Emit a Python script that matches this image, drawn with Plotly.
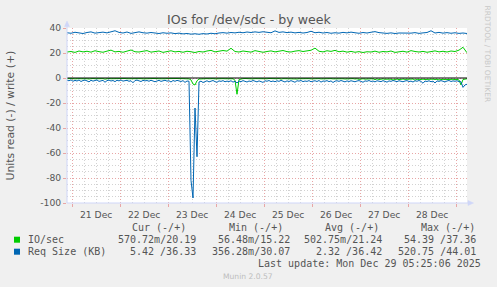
import plotly.graph_objects as go
import pandas as pd

# ---------------- data ----------------
start = "2025-12-20 21:25:06"
end = "2025-12-29 05:25:06"

# write (+) values, one every 2 hours
io_write = [20.8, 21.2, 20.5, 21.6, 20.9, 21.4, 20.7, 21.8, 21.1, 20.6,
            21.5, 22.3, 20.9, 21.3, 20.6, 21.7, 22.4, 21.0, 20.8, 21.4,
            21.9, 20.7, 21.2, 21.6, 20.5, 21.1, 21.8, 20.9, 21.3, 20.6,
            21.4, 21.0, 20.4, 21.2, 20.8, 21.6, 22.1, 20.9, 21.3, 22.0,
            21.5, 23.8, 21.2, 20.8, 21.6, 21.1, 20.7, 21.9, 21.3, 20.6,
            21.2, 21.7, 20.9, 21.4, 22.0, 21.1, 20.8, 21.5, 21.9, 21.2,
            21.6, 22.2, 23.9, 21.4, 20.9, 21.8, 21.3, 22.1, 21.0, 21.5,
            20.7, 21.3, 20.6, 21.1, 20.4, 21.0, 20.8, 21.5, 20.6, 21.2,
            20.9, 21.6, 20.5, 21.0, 21.4, 20.7, 21.9, 21.2, 20.8, 21.3,
            20.6, 21.1, 21.7, 20.9, 21.4, 20.8, 21.6, 21.2, 22.3, 24.6,
            20.2]
req_write = [36.2, 35.8, 36.6, 36.0, 35.6, 36.4, 36.9, 35.9, 36.3, 36.7,
             36.1, 37.2, 37.8, 36.5, 36.0, 36.8, 35.7, 36.3, 36.9, 36.2,
             35.9, 36.4, 36.0, 35.6, 36.2, 35.8, 36.1, 35.5, 35.9, 35.3,
             35.6, 35.1, 35.4, 35.0, 35.5, 35.2, 35.8, 35.4, 36.0, 36.3,
             35.9, 36.4, 36.1, 36.6, 36.2, 36.8, 36.4, 36.9, 36.5, 37.0,
             36.6, 36.2, 37.7, 36.5, 36.9, 36.3, 36.7, 36.1, 36.5, 36.0,
             36.4, 37.4, 36.2, 36.6, 36.0, 36.4, 35.8, 36.2, 35.9, 36.5,
             36.1, 36.7, 36.2, 35.8, 36.4, 36.0, 36.6, 37.1, 36.3, 36.0,
             35.7, 36.1, 35.6, 36.0, 35.8, 36.2, 35.9, 36.3, 35.7, 36.1,
             36.4, 37.8, 36.0, 36.5, 35.9, 36.3, 35.8, 36.2, 35.7, 36.0,
             35.6]

# read (-) values, one every hour
io_read = [0.5, 0.4, 0.6, 0.5, 0.7, 0.4, 0.5, 0.6, 0.4, 0.5,
           0.6, 0.8, 0.5, 0.4, 0.6, 0.5, 0.7, 0.4, 0.5, 0.9,
           0.5, 0.4, 0.6, 0.5, 0.7, 0.5, 0.4, 0.6, 0.5, 0.4,
           0.6, 0.5, 0.4, 0.8, 0.5, 0.6, 0.4, 0.5, 0.7, 0.5,
           0.4, 0.6, 0.5, 0.4, 0.7, 0.5, 0.6, 0.4, 0.5, 0.6,
           0.5, 0.4, 0.7, 0.5, 0.6, 0.4, 0.5, 0.8, 0.5, 0.6,
           0.5, 0.7, 1.5, 4.8, 5.6, 2.2, 0.8, 0.6, 0.5, 0.7,
           0.5, 0.6, 0.4, 0.5, 0.7, 0.5, 0.6, 0.4, 0.5, 0.6,
           0.5, 0.4, 0.7, 0.6, 1.8, 13.0, 1.2, 0.6, 0.5, 0.4,
           0.6, 0.5, 0.4, 0.7, 0.5, 0.6, 0.4, 0.5, 0.8, 0.5,
           0.6, 0.4, 0.5, 0.7, 0.5, 0.6, 0.4, 0.9, 0.5, 0.6,
           0.5, 0.7, 0.4, 0.6, 0.5, 0.8, 0.6, 0.5, 0.7, 0.4,
           0.6, 0.5, 0.7, 0.5, 0.9, 0.6, 0.5, 0.7, 0.6, 0.5,
           0.8, 0.6, 0.5, 0.7, 0.6, 1.0, 0.5, 0.7, 0.6, 0.8,
           0.6, 0.9, 0.7, 0.5, 0.8, 0.6, 1.1, 0.7, 0.6, 0.9,
           0.7, 1.0, 0.8, 0.6, 1.3, 0.7, 1.2, 0.8, 0.7, 1.0,
           0.8, 1.1, 0.9, 1.6, 1.0, 0.8, 1.3, 0.9, 0.8, 1.1,
           0.9, 1.2, 1.0, 0.8, 1.7, 0.9, 1.4, 1.0, 0.9, 1.2,
           1.0, 1.3, 1.1, 0.9, 1.2, 1.0, 1.5, 1.1, 1.0, 1.3,
           1.1, 1.4, 1.2, 1.0, 1.3, 1.1, 1.6, 5.5, 1.2, 0.8,
           0.6]
req_read = [1.8, 2.2, 1.5, 2.6, 1.9, 2.4, 1.6, 2.8, 2.0, 1.7,
            2.3, 3.1, 1.8, 2.5, 2.0, 1.6, 2.7, 2.2, 1.9, 3.4,
            2.1, 1.7, 2.4, 2.0, 2.9, 1.8, 2.3, 1.6, 2.5, 2.1,
            1.9, 2.6, 2.2, 3.8, 2.0, 1.7, 2.4, 2.8, 1.9, 2.3,
            2.0, 2.6, 1.8, 2.2, 3.0, 2.4, 1.9, 2.7, 2.1, 1.8,
            2.5, 2.2, 3.2, 2.0, 2.6, 1.9, 2.3, 2.8, 2.1, 3.5,
            2.4, 2.6, 82.0, 96.0, 24.0, 63.0, 3.2, 2.5, 3.6, 2.8,
            2.2, 3.1, 2.6, 2.0, 2.9, 3.4, 2.3, 2.7, 2.1, 3.0,
            2.5, 2.8, 2.2, 3.3, 2.6, 4.0, 2.4, 2.9, 2.1, 2.7,
            3.2, 2.4, 2.8, 2.0, 2.6, 3.1, 2.3, 2.7, 3.5, 2.2,
            2.6, 2.0, 2.9, 2.4, 3.0, 2.2, 2.7, 1.9, 2.5, 3.2,
            2.3, 2.8, 2.1, 2.6, 3.4, 2.2, 2.5, 2.0, 2.9, 2.4,
            2.7, 2.1, 3.0, 2.5, 2.2, 2.8, 2.0, 3.3, 2.4, 2.6,
            2.1, 2.9, 2.3, 3.6, 2.5, 2.2, 2.7, 2.0, 2.6, 3.1,
            2.3, 2.8, 2.2, 2.5, 3.0, 2.4, 2.1, 2.7, 3.4, 2.3,
            2.6, 2.0, 2.8, 2.4, 3.1, 2.2, 2.5, 2.9, 2.1, 2.6,
            3.3, 2.3, 2.7, 2.0, 2.5, 2.9, 2.2, 2.6, 3.0, 2.4,
            2.1, 2.8, 2.5, 3.2, 2.2, 2.6, 2.0, 2.7, 4.2, 2.4,
            2.8, 2.2, 3.0, 2.5, 4.0, 2.3, 2.7, 2.1, 2.6, 3.1,
            2.4, 2.0, 2.8, 2.3, 2.6, 2.2, 2.9, 3.0, 7.5, 5.5,
            5.0]

y_tickvals = [40, 20, 0, -20, -40, -60, -80, -100]
y_ticktext = ["40", "20", "0", "-20", "-40", "-60", "-80", "-100"]

series_names = ["IO/sec", "Req Size (KB)"]
series_colors = ["#00CC00", "#0066B3"]
legend_headers = ["Cur (-/+)", "Min (-/+)", "Avg (-/+)", "Max (-/+)"]
io_stats = ["570.72m/20.19", "56.48m/15.22", "502.75m/21.24", "54.39 /37.36"]
req_stats = ["5.42 /36.33", "356.28m/30.07", "2.32 /36.42", "520.75 /44.01"]
last_update = "Last update: Mon Dec 29 05:25:06 2025"
title = "IOs for /dev/sdc - by week"
y_title = "Units read (-) / write (+)"

# ---------------- layout helpers ----------------
W, H = 497, 287
L, R, T, B = 67, 30, 28, 84
PW, PH = W - L - R, H - T - B


def px(x):
    return (x - L) / PW


def py(y):
    return (T + PH - y) / PH


t2 = pd.date_range(start, periods=len(io_write), freq="2h")
t1 = pd.date_range(start, periods=len(io_read), freq="1h")

fig = go.Figure()
fig.add_trace(go.Scatter(x=t1, y=[-v for v in io_read], mode="lines",
                         line=dict(color=series_colors[0], width=1), hoverinfo="skip"))
fig.add_trace(go.Scatter(x=t2, y=io_write, mode="lines",
                         line=dict(color=series_colors[0], width=1), hoverinfo="skip"))
fig.add_trace(go.Scatter(x=t1, y=[-v for v in req_read], mode="lines",
                         line=dict(color=series_colors[1], width=1), hoverinfo="skip"))
fig.add_trace(go.Scatter(x=t2, y=req_write, mode="lines",
                         line=dict(color=series_colors[1], width=1), hoverinfo="skip"))

FONT = "DejaVu Sans"
MONO = "DejaVu Sans Mono"
TXT = "#555555"
MGRID = "#E8A6A6"
GRID = "#D2D2D2"
AXIS = "#CFD6F8"

fig.update_layout(
    width=W, height=H, autosize=False,
    margin=dict(l=L, r=R, t=T, b=B),
    paper_bgcolor="#F0F0F0", plot_bgcolor="#FFFFFF",
    showlegend=False,
    font=dict(family=FONT, color=TXT),
    xaxis=dict(
        type="date", range=[start, end],
        tick0="2025-12-21 00:00:00", dtick=86400000,
        ticklabelmode="period", tickformat="%d %b",
        showgrid=True, gridcolor=MGRID, griddash="1px,2px", gridwidth=1,
        ticks="outside", ticklen=3, tickcolor=MGRID,
        tickfont=dict(family=FONT, size=9.2, color=TXT),
        minor=dict(dtick=6 * 3600000, tick0="2025-12-21 00:00:00",
                   showgrid=True, gridcolor=GRID, griddash="1px,2px", ticks=""),
        showline=False, zeroline=False, automargin=False, fixedrange=True,
    ),
    yaxis=dict(
        range=[-100, 40], tickvals=y_tickvals, ticktext=y_ticktext,
        showgrid=True, gridcolor=MGRID, griddash="1px,2px", gridwidth=1,
        ticks="outside", ticklen=3, tickcolor=MGRID,
        tickfont=dict(family=FONT, size=9.2, color=TXT),
        minor=dict(dtick=5, tick0=0, showgrid=True, gridcolor=GRID,
                   griddash="1px,2px", ticks=""),
        showline=False, zeroline=False, automargin=False, fixedrange=True,
    ),
)

shapes = []
# zero line (black, above data)
shapes.append(dict(type="line", xref="paper", yref="y", x0=0, x1=1, y0=0, y1=0,
                   line=dict(color="#000000", width=1), layer="above"))
# axes lines with arrows
shapes.append(dict(type="line", xref="paper", yref="paper", x0=0, x1=0,
                   y0=0, y1=py(25), line=dict(color=AXIS, width=1), layer="above"))
shapes.append(dict(type="line", xref="paper", yref="paper", x0=0, x1=px(469),
                   y0=0, y1=0, line=dict(color=AXIS, width=1), layer="above"))
shapes.append(dict(type="path", xref="paper", yref="paper",
                   path=f"M {px(64.5)} {py(26.5)} L {px(67)} {py(21)} L {px(69.5)} {py(26.5)} Z",
                   fillcolor=AXIS, line=dict(color=AXIS, width=0.5), layer="above"))
shapes.append(dict(type="path", xref="paper", yref="paper",
                   path=f"M {px(468)} {py(200.5)} L {px(473.5)} {py(203)} L {px(468)} {py(205.5)} Z",
                   fillcolor=AXIS, line=dict(color=AXIS, width=0.5), layer="above"))
# legend swatches
for k, c in enumerate(series_colors):
    yc = 239.7 + 12 * k
    shapes.append(dict(type="rect", xref="paper", yref="paper",
                       x0=px(14), x1=px(20), y0=py(yc + 3), y1=py(yc - 3),
                       fillcolor=c, line=dict(width=0)))
fig.update_layout(shapes=shapes)


def text(x, y, s, xanchor="left", size=10, color=TXT, family=MONO, angle=0):
    fig.add_annotation(x=px(x), y=py(y), xref="paper", yref="paper", text=s,
                       showarrow=False, xanchor=xanchor, yanchor="middle",
                       textangle=angle, borderpad=0,
                       font=dict(family=family, size=size, color=color))


text(248.5, 19.5, title, xanchor="center", size=12.6, family=FONT)
text(10, 115.5, y_title, xanchor="center", size=10.8, family=FONT, angle=-90)
text(487, 53.5, "RRDTOOL / TOBI OETIKER", xanchor="center", size=7.5,
     family=FONT, color="#C8C8C8", angle=90)

header_right = [187, 284, 380, 476]
value_right = [197, 291, 383, 477]
for h, xr in zip(legend_headers, header_right):
    text(xr, 227.3, h, xanchor="right")
for k, (name, stats) in enumerate(zip(series_names, [io_stats, req_stats])):
    yc = 239.7 + 12 * k
    text(26.7, yc, name)
    for s, xr in zip(stats, value_right):
        text(xr, yc, s, xanchor="right")
text(482, 263.3, last_update, xanchor="right")
text(248, 276, "Munin 2.0.57", xanchor="center", size=7.6, family=FONT, color="#BDBDBD")

fig.write_html("out.html", config={"displayModeBar": False, "staticPlot": True})
